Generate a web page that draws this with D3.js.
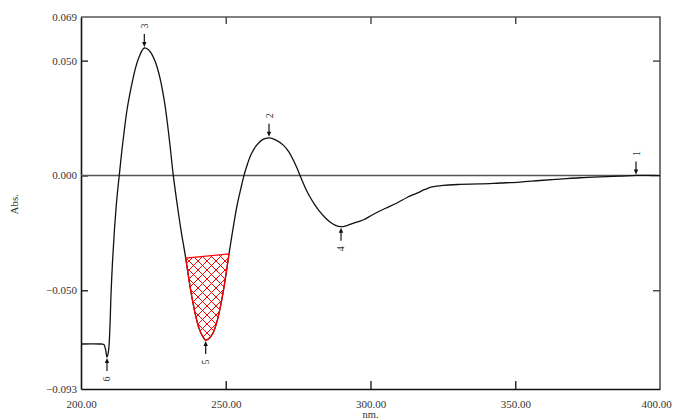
<!DOCTYPE html>
<html>
<head>
<meta charset="utf-8">
<script src="https://cdn.jsdelivr.net/npm/d3@7"></script>
<style>
  html, body { margin: 0; padding: 0; background: #fff; }
  svg { display: block; }
  text { font-family: "Liberation Serif", "DejaVu Serif", serif; fill: #333; }
</style>
</head>
<body>
<svg id="chart" width="673" height="420"></svg>
<script>
// Derivative absorbance spectrum: wavelength (nm) and absorbance
const wavelength = [
  200.00, 206.50, 207.60, 207.94, 208.46, 208.98, 209.50, 210.02, 210.36, 210.88,
  211.50, 212.19, 212.78, 213.30, 214.06, 214.85, 215.89, 217.27, 218.65, 220.03,
  221.87, 223.83, 225.56, 227.29, 228.84, 229.88, 230.92, 231.88, 233.16, 234.54,
  236.17, 237.65, 238.69, 239.72, 240.76, 241.97, 243.07, 244.21, 245.60, 246.98,
  248.19, 249.22, 250.26, 251.12, 252.50, 253.89, 255.09, 256.30, 257.51, 258.72,
  260.69, 262.69, 264.94, 267.36, 269.88, 271.85, 273.33, 274.61, 275.65, 277.37,
  279.10, 280.83, 282.56, 284.28, 286.01, 287.74, 289.81, 291.88, 293.96, 297.41,
  300.86, 305.01, 309.15, 312.61, 316.06, 318.83, 321.24, 325.04, 330.92, 337.82,
  344.73, 351.64, 358.55, 365.46, 372.37, 379.27, 386.18, 391.71, 395.86, 400.00
];
const absorbance = [
  -0.0734, -0.0734, -0.0735, -0.0737, -0.0756, -0.0791, -0.0765, -0.0651, -0.0521, -0.0377,
  -0.0246, -0.0129, -0.0051,  0.0010,  0.0102,  0.0185,  0.0285,  0.0380,  0.0459,  0.0515,
   0.0555,  0.0540,  0.0498,  0.0424,  0.0320,  0.0224,  0.0111,  0.0000, -0.0120, -0.0238,
  -0.0360, -0.0482, -0.0556, -0.0617, -0.0665, -0.0700, -0.0717, -0.0710, -0.0686, -0.0636,
  -0.0569, -0.0499, -0.0416, -0.0342, -0.0233, -0.0131, -0.0064,  0.0000,  0.0050,  0.0091,
   0.0132,  0.0156,  0.0164,  0.0154,  0.0132,  0.0102,  0.0067,  0.0032,  0.0000, -0.0051,
  -0.0094, -0.0129, -0.0159, -0.0183, -0.0203, -0.0216, -0.0223, -0.0218, -0.0209, -0.0194,
  -0.0170, -0.0144, -0.0120, -0.0096, -0.0077, -0.0061, -0.0050, -0.0043, -0.0039, -0.0037,
  -0.0033, -0.0029, -0.0022, -0.0016, -0.0010, -0.0006, -0.0003,  0.0000,  0.0000, -0.0001
];

// Picked peaks / valleys (label, wavelength, kind)
const peakLabels = ["1", "2", "3", "4", "5", "6"];
const peakWavelengths = [391.71, 264.94, 221.87, 289.81, 243.07, 208.98];
const peakKinds = ["max", "max", "max", "min", "min", "min"];

// Integrated band (shaded region) limits in nm
const bandRange = [236.17, 251.12];

// Axis ticks
const xTicks = [200, 250, 300, 350, 400];
const yTicks = [0.069, 0.050, 0.000, -0.050, -0.093];
const xTitle = "nm.";
const yTitle = "Abs.";

const svg = d3.select("#chart");
const plot = { left: 81, right: 660, top: 17, bottom: 389 };

const x = d3.scaleLinear().domain([200, 400]).range([plot.left, plot.right]);
const y = d3.scaleLinear().domain([-0.093, 0.069]).range([plot.bottom, plot.top]);

const spectrum = wavelength.map((w, i) => ({ w, a: absorbance[i] }));

// hatch pattern for the band
const defs = svg.append("defs");
defs.append("pattern")
  .attr("id", "hatch")
  .attr("patternUnits", "userSpaceOnUse")
  .attr("width", 9).attr("height", 9)
  .append("path")
  .attr("d", "M0,0L9,9M9,0L0,9")
  .attr("stroke", "#f00").attr("stroke-width", 1).attr("fill", "none");

const line = d3.line()
  .x(d => x(d.w))
  .y(d => y(d.a))
  .curve(d3.curveCatmullRom.alpha(0.5));

// frame (top and right)
svg.append("path")
  .attr("d", `M${plot.left},${plot.top}H${plot.right}V${plot.bottom}`)
  .attr("fill", "none").attr("stroke", "#555").attr("stroke-width", 1.6);

// axes
const fmtY = d3.format(".3f");
const fmtX = d3.format(".2f");

const yAxis = svg.append("g")
  .attr("transform", `translate(${plot.left},0)`)
  .call(d3.axisLeft(y).tickValues(yTicks).tickFormat(fmtY)
    .tickSizeInner(-7).tickSizeOuter(0).tickPadding(4));
yAxis.select(".domain").attr("stroke", "#111").attr("stroke-width", 1.6);
yAxis.selectAll(".tick line").attr("stroke", "#222").attr("stroke-width", 1.4)
  .filter(d => d === 0.069 || d === -0.093).remove();
yAxis.selectAll(".tick text").attr("font-size", 11).attr("fill", "#333")
  .style("font-family", "Liberation Serif, serif");

const yAxisR = svg.append("g")
  .attr("transform", `translate(${plot.right},0)`)
  .call(d3.axisRight(y).tickValues([0.050, -0.050]).tickFormat("")
    .tickSizeInner(-7).tickSizeOuter(0));
yAxisR.select(".domain").remove();
yAxisR.selectAll(".tick line").attr("stroke", "#444").attr("stroke-width", 1.4);

const xAxis = svg.append("g")
  .attr("transform", `translate(0,${plot.bottom})`)
  .call(d3.axisBottom(x).tickValues(xTicks).tickFormat(fmtX)
    .tickSizeInner(-8).tickSizeOuter(0).tickPadding(11));
xAxis.select(".domain").attr("stroke", "#111").attr("stroke-width", 1.6);
xAxis.selectAll(".tick line").attr("stroke", "#222").attr("stroke-width", 1.4)
  .filter(d => d === 200 || d === 400).remove();
xAxis.selectAll(".tick text").attr("font-size", 11).attr("fill", "#333")
  .style("font-family", "Liberation Serif, serif")
  .attr("dx", d => d === 400 ? -4 : 0);

const xAxisT = svg.append("g")
  .attr("transform", `translate(0,${plot.top})`)
  .call(d3.axisTop(x).tickValues([250, 300, 350]).tickFormat("")
    .tickSizeInner(-7).tickSizeOuter(0));
xAxisT.select(".domain").remove();
xAxisT.selectAll(".tick line").attr("stroke", "#444").attr("stroke-width", 1.4);

// axis titles
svg.append("text")
  .attr("x", x(300)).attr("y", 418)
  .attr("text-anchor", "middle").attr("font-size", 10.5)
  .text(xTitle);
svg.append("text")
  .attr("transform", `translate(18,${y(-0.0125)}) rotate(-90)`)
  .attr("text-anchor", "middle").attr("font-size", 11)
  .text(yTitle);

// zero baseline
svg.append("line")
  .attr("x1", plot.left).attr("x2", plot.right)
  .attr("y1", y(0)).attr("y2", y(0))
  .attr("stroke", "#555").attr("stroke-width", 1.5);

// spectrum curve
svg.append("path")
  .datum(spectrum)
  .attr("d", line)
  .attr("fill", "none").attr("stroke", "#111").attr("stroke-width", 1.3);

// shaded band: curve segment closed by a straight chord
const band = spectrum.filter(d => d.w >= bandRange[0] && d.w <= bandRange[1]);
svg.append("path")
  .datum(band)
  .attr("d", d => line(d) + "Z")
  .attr("fill", "url(#hatch)")
  .attr("stroke", "#f00").attr("stroke-width", 1.2);

// peak markers: arrow + rotated label
const peaks = peakLabels.map((lab, i) => {
  const w = peakWavelengths[i];
  const idx = wavelength.indexOf(w);
  return { lab, w, a: absorbance[idx], kind: peakKinds[i] };
});

const pk = svg.append("g").selectAll("g").data(peaks).join("g")
  .attr("transform", d => `translate(${x(d.w)},${y(d.a)})`);

pk.append("line")
  .attr("x1", 0).attr("x2", 0)
  .attr("y1", d => d.kind === "max" ? -14 : 14)
  .attr("y2", d => d.kind === "max" ? -4 : 4)
  .attr("stroke", "#111").attr("stroke-width", 1.2);
pk.append("path")
  .attr("d", d => d.kind === "max" ? "M-2.2,-6L2.2,-6L0,-1Z" : "M-2.2,6L2.2,6L0,1Z")
  .attr("fill", "#111");
pk.append("text")
  .attr("transform", d => `translate(3.5,${d.kind === "max" ? -22 : 22}) rotate(-90)`)
  .attr("text-anchor", "middle")
  .attr("font-size", 10)
  .text(d => d.lab);
</script>
</body>
</html>
